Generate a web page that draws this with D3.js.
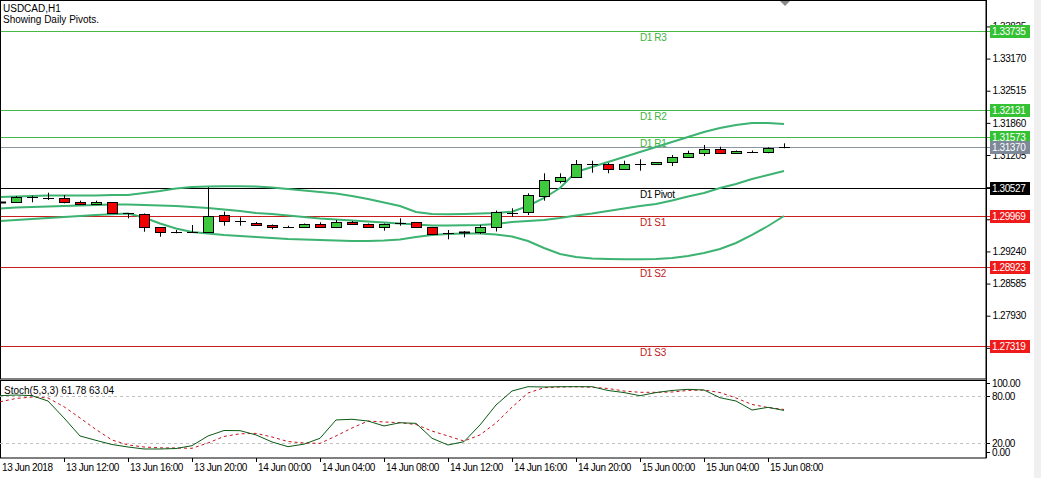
<!DOCTYPE html>
<html><head><meta charset="utf-8">
<script src="https://cdn.jsdelivr.net/npm/d3@7"></script>
<style>
body{margin:0;background:#fff}
svg{display:block}
text{font-family:"Liberation Sans",Arial,sans-serif;font-size:10px;letter-spacing:-0.4px}
text.title{letter-spacing:0}
</style>
</head><body>
<svg id="c" width="1041" height="478"></svg>
<script>
const times = [
"2018-06-13 08:00","2018-06-13 09:00","2018-06-13 10:00","2018-06-13 11:00","2018-06-13 12:00","2018-06-13 13:00","2018-06-13 14:00","2018-06-13 15:00",
"2018-06-13 16:00","2018-06-13 17:00","2018-06-13 18:00","2018-06-13 19:00","2018-06-13 20:00","2018-06-13 21:00","2018-06-13 22:00","2018-06-13 23:00",
"2018-06-14 00:00","2018-06-14 01:00","2018-06-14 02:00","2018-06-14 03:00","2018-06-14 04:00","2018-06-14 05:00","2018-06-14 06:00","2018-06-14 07:00",
"2018-06-14 08:00","2018-06-14 09:00","2018-06-14 10:00","2018-06-14 11:00","2018-06-14 12:00","2018-06-14 13:00","2018-06-14 14:00","2018-06-14 15:00",
"2018-06-14 16:00","2018-06-14 17:00","2018-06-14 18:00","2018-06-14 19:00","2018-06-14 20:00","2018-06-14 21:00","2018-06-14 22:00","2018-06-14 23:00",
"2018-06-15 00:00","2018-06-15 01:00","2018-06-15 02:00","2018-06-15 03:00","2018-06-15 04:00","2018-06-15 05:00","2018-06-15 06:00","2018-06-15 07:00",
"2018-06-15 08:00","2018-06-15 09:00"];
const open = [1.30237,1.30241,1.30355,1.30323,1.30323,1.30241,1.30200,1.30241,1.30017,1.29996,
1.29732,1.29630,1.29642,1.29642,1.29982,1.29866,1.29825,1.29778,1.29744,1.29732,
1.29799,1.29732,1.29833,1.29799,1.29732,1.29813,1.29833,1.29732,1.29609,1.29619,
1.29630,1.29732,1.30033,1.30037,1.30376,1.30681,1.30763,1.31022,1.31022,1.30914,
1.31022,1.31022,1.31056,1.31158,1.31240,1.31321,1.31240,1.31272,1.31260,1.31378];
const high = [1.30268,1.30369,1.30376,1.30437,1.30390,1.30274,1.30274,1.30247,1.30023,1.30013,
1.29738,1.29677,1.29778,1.30547,1.30050,1.29935,1.29840,1.29789,1.29764,1.29809,
1.29833,1.29880,1.29860,1.29809,1.29809,1.29915,1.29840,1.29738,1.29677,1.29656,
1.29778,1.30074,1.30119,1.30424,1.30832,1.30832,1.31103,1.31089,1.31042,1.31089,
1.31117,1.31062,1.31205,1.31293,1.31409,1.31374,1.31297,1.31297,1.31362,1.31443];
const low = [1.30227,1.30227,1.30241,1.30288,1.30221,1.30186,1.30186,1.30003,1.29915,1.29642,
1.29540,1.29609,1.29636,1.29636,1.29764,1.29764,1.29758,1.29691,1.29717,1.29717,
1.29717,1.29717,1.29778,1.29717,1.29662,1.29764,1.29717,1.29585,1.29487,1.29528,
1.29595,1.29646,1.29941,1.29982,1.30274,1.30628,1.30757,1.30844,1.30832,1.30899,
1.30885,1.31011,1.30981,1.31144,1.31185,1.31225,1.31225,1.31246,1.31240,1.31342];
const close = [1.30257,1.30355,1.30352,1.30318,1.30241,1.30200,1.30241,1.30017,1.30013,1.29732,
1.29630,1.29630,1.29642,1.29968,1.29866,1.29866,1.29772,1.29732,1.29744,1.29799,
1.29732,1.29833,1.29793,1.29732,1.29799,1.29813,1.29732,1.29595,1.29609,1.29640,
1.29732,1.30043,1.30033,1.30390,1.30696,1.30763,1.31022,1.31022,1.30914,1.31022,
1.31022,1.31056,1.31158,1.31240,1.31321,1.31240,1.31286,1.31272,1.31342,1.31370];
const bbUpper = [1.30349,1.30359,1.30369,1.30380,1.30380,1.30380,1.30380,1.30390,1.30390,1.30431,
1.30471,1.30522,1.30553,1.30563,1.30567,1.30567,1.30563,1.30543,1.30512,1.30482,
1.30451,1.30420,1.30369,1.30308,1.30237,1.30166,1.30043,1.30003,1.29996,1.30003,
1.30013,1.30023,1.30050,1.30166,1.30329,1.30532,1.30859,1.30960,1.31062,1.31164,
1.31266,1.31368,1.31470,1.31572,1.31674,1.31755,1.31816,1.31857,1.31857,1.31837];
const bbMiddle = [1.30115,1.30135,1.30145,1.30155,1.30166,1.30176,1.30186,1.30196,1.30196,1.30186,
1.30176,1.30166,1.30145,1.30125,1.30094,1.30064,1.30023,1.30003,1.29972,1.29941,
1.29911,1.29891,1.29870,1.29850,1.29829,1.29809,1.29789,1.29768,1.29768,1.29772,
1.29778,1.29799,1.29840,1.29860,1.29880,1.29921,1.29972,1.30013,1.30064,1.30115,
1.30166,1.30206,1.30278,1.30359,1.30431,1.30532,1.30614,1.30716,1.30797,1.30879];
const bbLower = [1.29860,1.29880,1.29901,1.29921,1.29941,1.29962,1.29982,1.29996,1.30013,1.29931,
1.29809,1.29707,1.29636,1.29605,1.29575,1.29554,1.29534,1.29513,1.29493,1.29483,
1.29473,1.29463,1.29452,1.29452,1.29463,1.29483,1.29534,1.29575,1.29595,1.29605,
1.29605,1.29585,1.29544,1.29452,1.29310,1.29187,1.29126,1.29096,1.29086,1.29079,
1.29079,1.29086,1.29106,1.29147,1.29208,1.29289,1.29412,1.29575,1.29758,1.29962];
const stochK = [80.9,81.8,81,74,52,28.6,22.9,17.5,14.3,11.7,
11.7,12.3,16,28.6,35.7,35.5,30,20.8,14.7,18,
25.6,49.4,50.3,48,41.6,45.8,45,25.6,16.9,21.2,
42.9,68.8,87,92.6,92.2,92.6,92.6,92.6,87.7,85,
80.9,85,87.7,89.2,88.3,78.3,74,62.3,65.8,61.78];
const stochD = [73,77.3,79.2,78,66.6,52,37,23.4,17,14.3,
13.2,13,12.6,19.5,28,31.4,32,27.3,21.4,19.5,
19,28.6,39,48,46.8,45.8,43.5,35,28.6,22,
30,45.5,66,84.4,91.3,92.2,92.6,91.8,90.3,87,
85.3,85.3,85.7,87.7,88.3,85,78,69.5,65.6,63.04];
const priceTicks = [1.27275,1.27930,1.28585,1.29240,1.29895,1.30550,1.31205,1.31860,1.32515,1.33170,1.33825];
const pivotNames = ["D1 R3","D1 R2","D1 R1","D1 Pivot","D1 S1","D1 S2","D1 S3"];
const pivotValues = [1.33735,1.32131,1.31573,1.30527,1.29969,1.28923,1.27319];
const pivotKinds = ["r","r","r","p","s","s","s"];
const currentPrice = 1.31370;
const stochTicks = [100,80,20,0];
const stochLevels = [80,20];
const timeTickTimes = ["2018-06-13 08:00","2018-06-13 12:00","2018-06-13 16:00","2018-06-13 20:00","2018-06-14 00:00","2018-06-14 04:00","2018-06-14 08:00","2018-06-14 12:00","2018-06-14 16:00","2018-06-14 20:00","2018-06-15 00:00","2018-06-15 04:00","2018-06-15 08:00"];
const timeTickLabels = ["13 Jun 2018","13 Jun 12:00","13 Jun 16:00","13 Jun 20:00","14 Jun 00:00","14 Jun 04:00","14 Jun 08:00","14 Jun 12:00","14 Jun 16:00","14 Jun 20:00","15 Jun 00:00","15 Jun 04:00","15 Jun 08:00"];

const parse = d3.timeParse("%Y-%m-%d %H:%M");
const T = times.map(parse);
const svg = d3.select("#c");
const W = 1041, axisX = 986, mainTop = 0, mainBot = 379, stTop = 380, stBot = 458;

const x = d3.scaleTime().domain([T[0], T[T.length-1]]).range([0, 784]);
const y = d3.scaleLinear().domain([1.26640, 1.34364]).range([mainBot, mainTop]);
const ys = d3.scaleLinear().domain([0, 100]).range([stBot, stTop+1]);
const cx = d => Math.round(x(d)) + 0.5;
const cy = v => Math.round(y(v)) + 0.5;

const colors = {r:"#46b946", s:"#c81e1e", p:"#000000"};
const boxColors = {r:"#34c234", s:"#ee1b1b", p:"#000000"};
const textColors = {r:"#3cb43c", s:"#c02020", p:"#000000"};

svg.append("rect").attr("width", W).attr("height", 478).attr("fill", "#fff");
svg.append("rect").attr("x", 1034).attr("y", 0).attr("width", 7).attr("height", 478).attr("fill", "#f0f0f0");

const defs = svg.append("defs");
defs.append("clipPath").attr("id","cm").append("rect").attr("x",0).attr("y",mainTop).attr("width",axisX).attr("height",mainBot-mainTop);
defs.append("clipPath").attr("id","cs").append("rect").attr("x",0).attr("y",stTop).attr("width",axisX).attr("height",stBot-stTop);

const gm = svg.append("g").attr("clip-path","url(#cm)");

pivotValues.forEach((v,i) => {
  gm.append("line").attr("x1",0).attr("x2",axisX).attr("y1",cy(v)).attr("y2",cy(v))
    .attr("stroke", colors[pivotKinds[i]]).attr("stroke-width",1);
  gm.append("text").attr("x",640).attr("y",cy(v)+9).attr("fill",textColors[pivotKinds[i]])
    .attr("font-size","9.5px").text(pivotNames[i]);
});
gm.append("line").attr("x1",0).attr("x2",axisX).attr("y1",cy(currentPrice)).attr("y2",cy(currentPrice))
  .attr("stroke","#8c96a2").attr("stroke-width",1);

[bbUpper, bbMiddle, bbLower].forEach(arr => {
  gm.append("path").datum(arr.map((v,i)=>[x(T[i]), y(v)]))
    .attr("d", d3.line()).attr("fill","none").attr("stroke","#3cb371").attr("stroke-width",2);
});

T.forEach((t,i) => {
  const xc = cx(t);
  gm.append("line").attr("x1",xc).attr("x2",xc).attr("y1",y(high[i])).attr("y2",y(low[i]))
    .attr("stroke","#000").attr("stroke-width",1);
  const yo = y(open[i]), yc = y(close[i]);
  if (Math.abs(yo-yc) < 1.5) {
    const yy = Math.round((yo+yc)/2)+0.5;
    gm.append("line").attr("x1",xc-5.5).attr("x2",xc+5.5).attr("y1",yy).attr("y2",yy)
      .attr("stroke","#000").attr("stroke-width",Math.abs(yo-yc) > 0.8 ? 2 : 1);
  } else {
    const top = Math.round(Math.min(yo,yc))+0.5, bot = Math.round(Math.max(yo,yc))+0.5;
    gm.append("rect").attr("x",xc-5).attr("y",top).attr("width",10).attr("height",bot-top)
      .attr("fill", close[i] > open[i] ? "#3ec83e" : "#f00000").attr("stroke","#000").attr("stroke-width",1);
  }
});

svg.append("path").attr("d","M779,0 L791,0 L785,6 Z").attr("fill","#8a8a8a");

svg.append("rect").attr("x",0.5).attr("y",0.5).attr("width",axisX-0.5).attr("height",mainBot-0.5)
  .attr("fill","none").attr("stroke","#000");
svg.append("rect").attr("x",0.5).attr("y",stTop+0.5).attr("width",axisX-0.5).attr("height",stBot-stTop-0.5)
  .attr("fill","none").attr("stroke","#000");

const ay = svg.append("g").attr("transform",`translate(${axisX+0.5},0)`)
  .call(d3.axisRight(y).tickValues(priceTicks).tickFormat(d3.format(".5f")).tickSize(4).tickPadding(2));
ay.select(".domain").remove();
ay.selectAll("text").attr("font-size","10px").attr("fill","#000").style("font-family",'"Liberation Sans",Arial,sans-serif');
ay.selectAll("line").attr("stroke","#000");

function priceBox(v, fill) {
  const yy = Math.round(y(v));
  svg.append("line").attr("x1",axisX).attr("x2",990).attr("y1",yy+0.5).attr("y2",yy+0.5).attr("stroke",fill);
  svg.append("rect").attr("x",990).attr("y",yy-6).attr("width",40).attr("height",13).attr("fill",fill);
  svg.append("text").attr("x",992).attr("y",yy+4).attr("fill","#fff").text(d3.format(".5f")(v));
}
pivotValues.forEach((v,i) => priceBox(v, boxColors[pivotKinds[i]]));
priceBox(currentPrice, "#7d8899");

const gs = svg.append("g").attr("clip-path","url(#cs)");
stochLevels.forEach(l => {
  gs.append("line").attr("x1",0).attr("x2",axisX).attr("y1",Math.round(ys(l))+0.5).attr("y2",Math.round(ys(l))+0.5)
    .attr("stroke","#c0c0c0").attr("stroke-dasharray","3,3");
});
gs.append("path").datum(stochD.map((v,i)=>[x(T[i]), ys(v)]))
  .attr("d", d3.line()).attr("fill","none").attr("stroke","#c8141e").attr("stroke-width",1).attr("stroke-dasharray","3,3");
gs.append("path").datum(stochK.map((v,i)=>[x(T[i]), ys(v)]))
  .attr("d", d3.line()).attr("fill","none").attr("stroke","#0a5a14").attr("stroke-width",1);
svg.append("text").attr("class","title").attr("x",4).attr("y",394).attr("fill","#000")
  .text(`Stoch(5,3,3) ${stochK[stochK.length-1].toFixed(2)} ${stochD[stochD.length-1].toFixed(2)}`);

const stochLabelPos = {100: stTop+3, 80: ys(80), 20: ys(20), 0: stBot-6};
stochTicks.forEach(t => {
  const yy = Math.round(stochLabelPos[t])+0.5;
  svg.append("line").attr("x1",axisX).attr("x2",axisX+4).attr("y1",yy).attr("y2",yy).attr("stroke","#000");
  svg.append("text").attr("x",992).attr("y",yy+3.5).attr("fill","#000").text(t.toFixed(2));
});
svg.append("line").attr("x1",axisX+0.5).attr("x2",axisX+0.5).attr("y1",0).attr("y2",stBot).attr("stroke","#000");

timeTickTimes.forEach((s,i) => {
  const xx = cx(parse(s));
  if (i>0) svg.append("line").attr("x1",xx).attr("x2",xx).attr("y1",stBot).attr("y2",stBot+4).attr("stroke","#000");
  svg.append("text").attr("x", i===0 ? 2 : xx+1.5).attr("y",470.5).attr("fill","#000").text(timeTickLabels[i]);
});

svg.append("text").attr("class","title").attr("x",3).attr("y",12).attr("fill","#000").text("USDCAD,H1");
svg.append("text").attr("class","title").attr("x",3).attr("y",23).attr("fill","#000").text("Showing Daily Pivots.");
</script>
</body></html>
